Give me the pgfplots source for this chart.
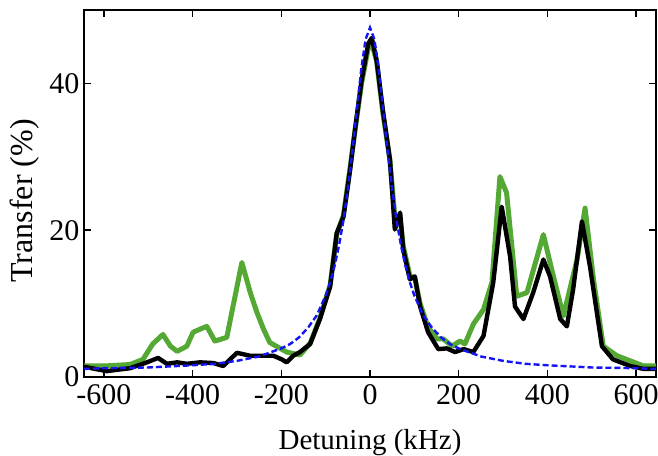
\documentclass[border=0pt]{standalone}
\usepackage{fontspec}
\setmainfont{Liberation Serif}
\usepackage{pgfplots}
\pgfplotsset{compat=1.18}
\definecolor{trgreen}{RGB}{84,168,52}
\definecolor{fitblue}{RGB}{20,20,245}
\begin{document}
\begin{tikzpicture}
\begin{axis}[
  scale only axis, width=572pt, height=367pt,
  xmin=-645, xmax=645, ymin=0, ymax=50,
  xtick={-600,-400,...,600}, ytick={0,20,40},
  tick pos=both, tick align=inside, major tick length=7pt,
  major tick style={line width=1.6pt, black},
  line width=2.6pt,
  /pgf/number format/assume math mode=true,
  xticklabel={\pgfmathprintnumber{\tick}},
  yticklabel={\pgfmathprintnumber{\tick}},
  tick label style={font=\fontsize{30}{30}\selectfont},
  xticklabel style={yshift=-3pt},
  xlabel style={font=\fontsize{29}{29}\selectfont},
  ylabel style={font=\fontsize{32}{32}\selectfont, at={(ticklabel cs:0.48)}},
  xlabel shift=17pt, ylabel shift=2pt,
  xlabel={Detuning (kHz)}, ylabel={Transfer (\%)},
]
\addplot[trgreen, line width=5pt, line join=round] coordinates {
(-645,1.5) (-600,1.5) (-541,1.7) (-512,2.4) (-490,4.5) (-467,5.8) (-450,4.2)
(-435,3.5) (-413,4.2) (-399,6.1) (-380,6.6) (-368,6.9) (-350,4.9) (-323,5.4)
(-289,15.6) (-270,11.5) (-255,8.8) (-240,6.5) (-226,4.7) (-188,3.4) (-158,3.0)
(-135,4.6) (-113,8.0) (-90,12.5) (-75,19.5) (-60,22.0) (-45,28.5) (-34,33.5)
(-19,40.0) (-4,44.8) (4,45.5) (15,43.0) (29,36.0) (45,29.5) (56,21.8) (68,21.5)
(75,17.8) (90,13.8) (101,13.5) (113,10.0) (131,6.8) (151,5.2) (165,5.2) (185,4.2)
(203,4.9) (214,4.5) (233,7.2) (256,9.2) (275,12.9) (293,27.3) (308,25.1) (331,11.0)
(354,11.5) (391,19.4) (410,14.6) (436,8.3) (467,16.0) (485,23.0) (504,13.3)
(526,4.2) (557,2.9) (587,2.2) (617,1.5) (645,1.5)
};
\addplot[black, line width=4.4pt, line join=round] coordinates {
(-645,1.4) (-594,0.8) (-541,1.2) (-503,2.0) (-478,2.6) (-458,1.8) (-435,2.0)
(-413,1.8) (-383,2.0) (-353,1.9) (-331,1.5) (-300,3.3) (-271,2.9) (-218,2.9)
(-199,2.4) (-188,2.0) (-173,2.9) (-158,3.4) (-135,4.5) (-113,7.9) (-90,12.3)
(-75,19.6) (-60,21.8) (-45,28.2) (-34,33.6) (-19,40.4) (-4,45.4) (4,46.2)
(15,43.1) (29,36.3) (45,29.6) (56,20.1) (68,22.4) (75,17.4) (90,13.3) (101,13.7)
(113,9.6) (131,6.1) (154,3.8) (173,3.9) (192,3.4) (211,3.8) (233,3.4) (256,5.6)
(278,12.9) (297,23.2) (316,16.4) (327,9.6) (346,7.9) (368,11.5) (391,16.0)
(406,13.7) (429,7.9) (444,6.9) (458,11.9) (478,21.2) (496,15.1) (523,4.2)
(548,2.4) (587,1.5) (617,1.1) (645,1.1)
};
\addplot[fitblue, line width=2.4pt, dash pattern=on 6pt off 3pt] coordinates {
(-645,1.1) (-600,1.2) (-500,1.3) (-400,1.6) (-350,1.8) (-300,2.2) (-250,2.8)
(-200,3.9) (-180,4.5) (-160,5.4) (-140,6.7) (-120,8.4) (-100,11.1) (-90,12.9)
(-80,15.1) (-70,17.9) (-60,21.3) (-50,25.6) (-40,30.6) (-30,36.2) (-20,41.8)
(-10,46.0) (0,47.6) (10,46.0) (20,41.8) (30,36.2) (40,30.6) (50,25.6) (60,21.3)
(70,17.9) (80,15.1) (90,12.9) (100,11.1) (120,8.4) (140,6.7) (160,5.4) (180,4.5)
(200,3.9) (250,2.8) (300,2.2) (350,1.8) (400,1.6) (500,1.3) (600,1.2) (645,1.1)
};
\coordinate (bl) at (rel axis cs:0,0);
\coordinate (tr) at (rel axis cs:1,1);
\end{axis}
\pgfresetboundingbox
\path ([shift={(-84pt,-78pt)}]bl) rectangle ([shift={(2pt,10pt)}]tr);
\end{tikzpicture}
\end{document}
